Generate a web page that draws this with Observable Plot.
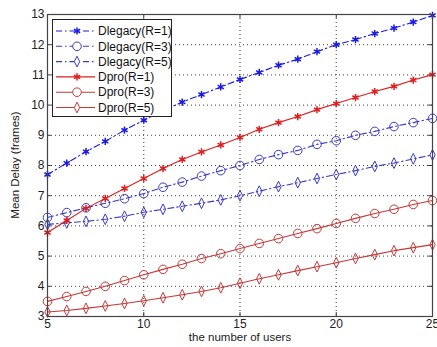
<!DOCTYPE html>
<html><head><meta charset="utf-8">
<script src="https://cdn.jsdelivr.net/npm/d3@7"></script>
<script src="https://cdn.jsdelivr.net/npm/@observablehq/plot@0.6"></script>
<style>body{margin:0;background:#fff}svg{font-family:"Liberation Sans",Arial,sans-serif}</style>
</head><body><div id="chart"></div>
<script>
const users = [5,6,7,8,9,10,11,12,13,14,15,16,17,18,19,20,21,22,23,24,25];
const dlegacyR1 = [7.7,8.08,8.46,8.8,9.17,9.5,9.82,10.1,10.35,10.6,10.85,11.08,11.32,11.52,11.77,12.0,12.17,12.37,12.55,12.75,12.97];
const dlegacyR3 = [6.28,6.44,6.6,6.75,6.9,7.07,7.28,7.45,7.65,7.83,8.0,8.2,8.36,8.5,8.7,8.82,9.0,9.13,9.29,9.42,9.56];
const dlegacyR5 = [6.05,6.1,6.15,6.22,6.32,6.45,6.55,6.65,6.75,6.86,7.0,7.15,7.3,7.43,7.57,7.7,7.83,7.97,8.08,8.22,8.35];
const dproR1 = [5.78,6.18,6.58,6.91,7.24,7.57,7.9,8.2,8.45,8.68,8.93,9.2,9.42,9.62,9.85,10.05,10.25,10.45,10.62,10.83,11.01];
const dproR3 = [3.5,3.66,3.83,4.0,4.19,4.38,4.56,4.73,4.92,5.08,5.25,5.42,5.58,5.75,5.91,6.08,6.25,6.41,6.55,6.71,6.84];
const dproR5 = [3.15,3.2,3.27,3.35,3.43,3.52,3.62,3.72,3.83,3.95,4.1,4.25,4.38,4.52,4.65,4.78,4.92,5.05,5.18,5.28,5.38];
const seriesNames = ["Dlegacy(R=1)","Dlegacy(R=3)","Dlegacy(R=5)","Dpro(R=1)","Dpro(R=3)","Dpro(R=5)"];
const xTicks = [5,10,15,20,25];
const yTicks = [3,4,5,6,7,8,9,10,11,12,13];
const xLabel = "the number of users";
const yLabel = "Mean Delay (frames)";

const narrowDiamond = {draw(ctx, size){const r=Math.sqrt(size/Math.PI);const w=r*0.62,h=r*1.25;ctx.moveTo(0,-h);ctx.lineTo(w,0);ctx.lineTo(0,h);ctx.lineTo(-w,0);ctx.closePath();}};
const styles = [
  {color:"#1a1ae8", dash:"6,3,1.5,3", symbol:"asterisk", r:3.4, sw:1.5},
  {color:"#3a3ac4", dash:"6,3,1.5,3", symbol:"circle", r:4.3, sw:1},
  {color:"#3a3ac4", dash:"6,3,1.5,3", symbol:narrowDiamond, r:4.3, sw:1},
  {color:"#e01e1e", dash:null, symbol:"asterisk", r:3.4, sw:1.5},
  {color:"#c43838", dash:null, symbol:"circle", r:4.3, sw:1},
  {color:"#c43838", dash:null, symbol:narrowDiamond, r:4.3, sw:1}
];
const allSeries = [dlegacyR1,dlegacyR3,dlegacyR5,dproR1,dproR3,dproR5];
const tables = allSeries.map((vals,i)=>users.map((u,j)=>({x:u,y:vals[j],s:seriesNames[i]})));

const marks = [
  Plot.ruleX(xTicks.slice(1,-1), {stroke:"#000", strokeOpacity:0.75, strokeDasharray:"1,3"}),
  Plot.ruleY(yTicks.slice(1,-1), {stroke:"#000", strokeOpacity:0.75, strokeDasharray:"1,3"}),
  Plot.ruleX(xTicks, {y1:3, y2:3.13, stroke:"#333"}),
  Plot.ruleX(xTicks, {y1:13, y2:12.87, stroke:"#333"}),
  Plot.ruleY(yTicks, {x1:5, x2:5.2, stroke:"#333"}),
  Plot.ruleY(yTicks, {x1:25, x2:24.8, stroke:"#333"}),
  Plot.axisX({ticks:xTicks, tickSize:0, tickPadding:3, label:null, fontSize:12, tickFormat:d=>String(d)}),
  Plot.axisY({ticks:yTicks, tickSize:0, tickPadding:3, label:null, fontSize:12, tickFormat:d=>String(d)}),
];
tables.forEach((t,i)=>{
  const st = styles[i];
  marks.push(Plot.line(t,{x:"x",y:"y",stroke:st.color,strokeWidth:1.1,strokeDasharray:st.dash}));
  marks.push(Plot.dot(t,{x:"x",y:"y",stroke:st.color,fill:st.symbol==="asterisk"?st.color:"none",symbol:()=>st.symbol,r:st.r,strokeWidth:st.sw}));
});
marks.push(Plot.frame({stroke:"#444", strokeWidth:1.2}));

const chart = Plot.plot({
  width:437, height:347,
  marginLeft:47, marginRight:5, marginTop:14, marginBottom:31,
  x:{domain:[5,25]}, y:{domain:[3,13]},
  style:{fontFamily:"Liberation Sans, Arial, sans-serif", fontSize:"12px", color:"#222"},
  marks
});
document.getElementById("chart").appendChild(chart);

const svg = d3.select(chart);
svg.append("text").attr("x",240).attr("y",341).attr("text-anchor","middle").attr("font-size",11.5).attr("fill","#222").text(xLabel);
svg.append("text").attr("transform","translate(19,165) rotate(-90)").attr("text-anchor","middle").attr("font-size",11.5).attr("fill","#222").text(yLabel);

const lg = svg.append("g");
lg.append("rect").attr("x",52.5).attr("y",19.5).attr("width",119).attr("height",97).attr("fill","#fff").attr("stroke","#222");
seriesNames.forEach((name,i)=>{
  const st = styles[i]; const y = 31 + i*15.3;
  lg.append("line").attr("x1",56).attr("x2",95).attr("y1",y).attr("y2",y).attr("stroke",st.color).attr("stroke-width",1.1).attr("stroke-dasharray",st.dash);
  const sym = st.symbol==="asterisk"?d3.symbolAsterisk:st.symbol==="circle"?d3.symbolCircle:st.symbol;
  lg.append("path").attr("transform",`translate(77,${y})`).attr("d",d3.symbol(sym, st.r*st.r*Math.PI)()).attr("stroke",st.color).attr("fill",st.symbol==="asterisk"?st.color:"#fff").attr("stroke-width",st.sw);
  lg.append("text").attr("x",98).attr("y",y).attr("dy","0.35em").attr("text-anchor","start").attr("font-size",12).attr("fill","#111").text(name);
});
</script></body></html>
